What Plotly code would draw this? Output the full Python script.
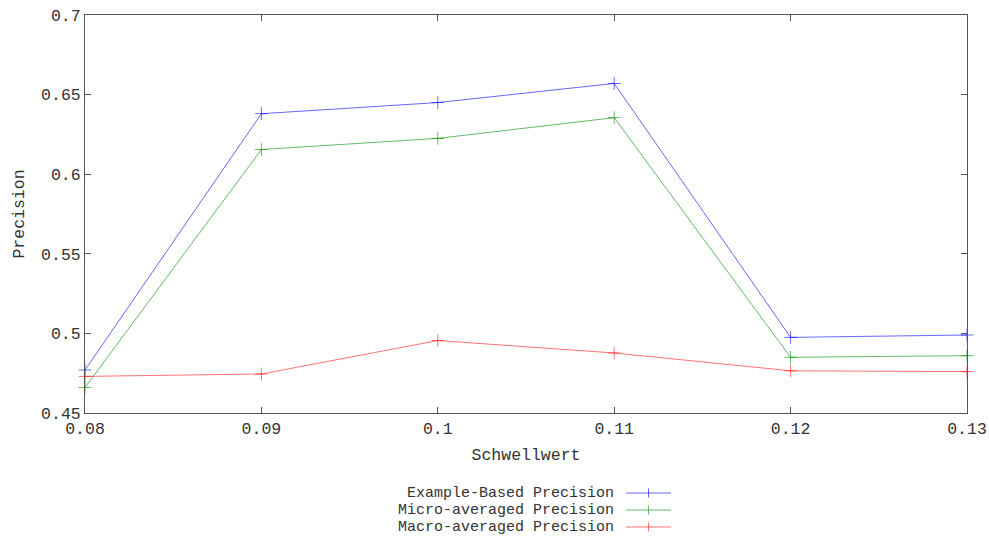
import plotly.graph_objects as go

thresholds = [0.08, 0.09, 0.10, 0.11, 0.12, 0.13]
example_based = [0.477, 0.638, 0.645, 0.657, 0.4975, 0.499]
micro_avg = [0.466, 0.6155, 0.6225, 0.6355, 0.485, 0.486]
macro_avg = [0.473, 0.4745, 0.4955, 0.4877, 0.4765, 0.476]

series_names = ["Example-Based Precision", "Micro-averaged Precision", "Macro-averaged Precision"]
series_values = [example_based, micro_avg, macro_avg]
series_colors = ["rgba(0,0,255,0.6)", "rgba(0,140,0,0.6)", "rgba(255,0,0,0.55)"]

x_ticks = [0.08, 0.09, 0.10, 0.11, 0.12, 0.13]
x_ticktext = ["0.08", "0.09", "0.1", "0.11", "0.12", "0.13"]
y_ticks = [0.45, 0.5, 0.55, 0.6, 0.65, 0.7]
y_ticktext = ["0.45", "0.5", "0.55", "0.6", "0.65", "0.7"]

FONT = "Liberation Mono, DejaVu Sans Mono, monospace"
FS = 16.5
LFS = 15
W, H = 989, 537
L, R, T, B = 85, 22, 15, 124

fig = go.Figure()
for name, vals, col in zip(series_names, series_values, series_colors):
    fig.add_trace(go.Scatter(
        x=thresholds, y=vals, name=name, mode="lines+markers",
        line=dict(color=col, width=1),
        marker=dict(symbol="cross-thin-open", size=9, line=dict(color=col, width=1)),
        showlegend=False, cliponaxis=False,
    ))

axis_common = dict(
    showline=True, linecolor="#555555", linewidth=1, mirror="ticks",
    ticks="inside", ticklen=6, tickcolor="#555555", showgrid=False, zeroline=False,
    automargin=False,
    tickfont=dict(family=FONT, size=FS, color="#333333"),
)
fig.update_xaxes(range=[0.08, 0.13], tickvals=x_ticks, ticktext=x_ticktext,
                 title=dict(text="Schwellwert", font=dict(family=FONT, size=FS, color="#333333"), standoff=10),
                 **axis_common)
fig.update_yaxes(range=[0.45, 0.7], tickvals=y_ticks, ticktext=y_ticktext,
                 title=dict(text="Precision", font=dict(family=FONT, size=FS, color="#333333"), standoff=12),
                 **axis_common)

# Legend (gnuplot style: text right-aligned, sample to the right)
shapes = []
annotations = []
row_y = [493, 510, 527]
pw, ph = W - L - R, H - T - B
for name, col, yy in zip(series_names, series_colors, row_y):
    yp = (H - yy - B) / ph
    annotations.append(dict(x=(616 - L) / pw, y=yp, xref="paper", yref="paper", text=name,
                            showarrow=False, xanchor="right", yanchor="middle",
                            font=dict(family=FONT, size=LFS, color="#333333")))
    shapes.append(dict(type="line", xref="paper", yref="paper",
                       x0=(626 - L) / pw, x1=(671 - L) / pw, y0=yp, y1=yp, line=dict(color=col, width=1)))
    shapes.append(dict(type="line", xref="paper", yref="paper",
                       x0=(648.5 - L) / pw, x1=(648.5 - L) / pw, y0=yp - 4.5 / ph, y1=yp + 4.5 / ph,
                       line=dict(color=col, width=1)))

fig.update_layout(
    width=W, height=H,
    margin=dict(l=L, r=R, t=T, b=B),
    paper_bgcolor="white", plot_bgcolor="white",
    shapes=shapes, annotations=annotations,
    showlegend=False,
)

fig.write_html("out.html")
